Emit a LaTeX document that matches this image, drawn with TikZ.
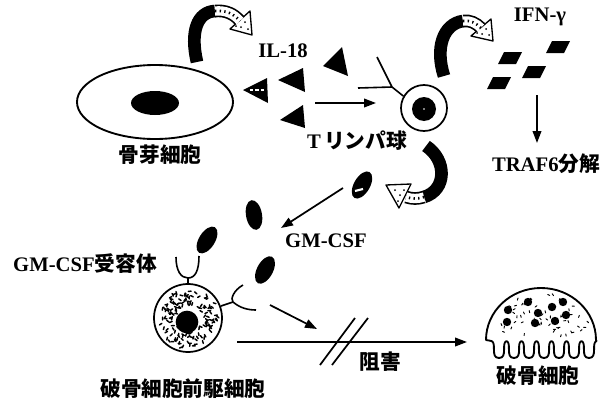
\documentclass[tikz,border=0pt]{standalone}
\usepackage{fontspec}
\setmainfont{Liberation Serif}
\newfontfamily\jp{Noto Sans CJK JP}
\usetikzlibrary{arrows.meta,shapes.geometric}

\tikzset{
  lbl/.style={inner sep=0.75pt, font=\fontsize{15.5}{18}\selectfont\bfseries},
  conn/.style={line width=1.3pt, -{Triangle[length=9pt,width=6.5pt]}},
  bandk/.style={line width=9.5pt},
  bandw/.style={line width=7pt, white},
  bandd/.style={line width=2pt, dash pattern=on 1pt off 2.5pt},
  bandhead/.style={fill=white, draw=black, line width=1pt, line join=round},
  speck/.style={line width=1.1pt, line cap=round},
  recep/.style={line width=1.2pt},
}
% outlined, speckled part of a swirl arrow
\newcommand{\swirlpart}[1]{\draw[bandk] #1;}
\newcommand{\swirlfill}[1]{\draw[bandw] #1; \draw[bandd] #1;}

\begin{document}
\begin{tikzpicture}[x=0.75pt,y=0.75pt,yscale=-1,xscale=1]
\useasboundingbox (0,0) rectangle (601,400);
\pgfmathsetseed{11}

%Shape: Ellipse (osteoblast)
\node[draw, ellipse, line width=1.4pt, minimum width=117pt, minimum height=55.5pt, inner sep=0] (obcell) at (155,102) {};
\node[fill, ellipse, minimum width=36pt, minimum height=18pt, inner sep=0] (obnuc) at (155,103) {};

%Shape: Circle (T cell)
\node[draw, circle, line width=1.3pt, minimum size=34.5pt, inner sep=0] (tcell) at (424,108) {};
\node[fill, circle, minimum size=18pt, inner sep=0] (tnuc) at (424,109) {};
\fill[white] (tnuc) circle (0.8);

%Shape: Circle (precursor)
\node[draw, circle, line width=1.3pt, minimum size=51pt, inner sep=0] (precell) at (188,318) {};
\node[fill, circle, minimum size=17pt, inner sep=0] (prenuc) at (187,322) {};
\foreach \i in {1,...,150}{
  \pgfmathsetmacro{\spa}{rnd*360}
  \pgfmathsetmacro{\spr}{14+rnd*16}
  \pgfmathsetmacro{\spd}{rnd*180}
  \draw[speck, shift={(188,318)}] (\spa:\spr) -- ++(\spd:2.8);
}

%Shape: Osteoclast
\draw[line width=1.4pt, line join=round] (486,340) arc[start angle=180, end angle=360, x radius=55, y radius=52]
  \foreach \c in {589,574,...,499} { -- (\c+7.5,341) .. controls (\c+2,343) and (\c+9,358) .. (\c,358) .. controls (\c-9,358) and (\c-2,343) .. (\c-7.5,341) } -- cycle;
\foreach \dx/\dy in {528/302, 563/302, 508/310, 538/313, 552/307, 566/315, 507/322, 535/323, 555/321}
  \fill (\dx,\dy) circle (4.2);
\foreach \i in {1,...,60}{
  \pgfmathsetmacro{\spa}{12+rnd*156}
  \pgfmathsetmacro{\spr}{0.3+rnd*0.62}
  \pgfmathsetmacro{\spd}{rnd*180}
  \draw[speck, line width=0.7pt] ({541+55*\spr*cos(\spa)},{340-52*\spr*sin(\spa)}) -- ++(\spd:2.2);
}

%Shape: IL-18 triangles
\fill (323,66) -- (342,47) -- (348,76) -- cycle;
\fill (278,80) -- (303,68) -- (305,92) -- cycle;
\fill (243,90) -- (267,78) -- (268,103) -- cycle;
\draw[white, line width=1.3pt, dash pattern=on 2.5pt off 1.5pt] (250,90) -- (266,90);
\fill (280,120) -- (303,105) -- (305,128) -- cycle;

%Shape: IFN-gamma bars
\foreach \bx/\by in {558/47, 510/58, 534/72, 499/83}
  \fill (\bx-6,\by-6) -- (\bx+12,\by-6) -- (\bx+6,\by+6) -- (\bx-12,\by+6) -- cycle;

%Shape: GM-CSF molecules
\fill[rotate around={-60:(362,185)}] (362,185) ellipse [x radius=15, y radius=8];
\draw[white, line width=1.6pt] (355,191) -- (363,189);
\fill[rotate around={-100:(254,215)}] (254,215) ellipse [x radius=15, y radius=8];
\fill[rotate around={-58:(207,240)}] (207,240) ellipse [x radius=15, y radius=8];
\fill[rotate around={-62:(265,270)}] (265,270) ellipse [x radius=15, y radius=8];

%Straight Lines (T cell receptor)
\coordinate (tcrfork) at (392,87);
\draw[recep] (377,57) -- (tcrfork);
\draw[recep] (358,88) -- (tcrfork);
\draw[recep] (tcrfork) -- (tcell.150);

%Curve Lines (GM-CSF receptors)
\coordinate (gmrtop) at (188,278);
\draw[recep] (precell.north) -- (gmrtop);
\draw[recep] (176,257) .. controls (176,271) and (181,278) .. (gmrtop) .. controls (195,278) and (199,271) .. (199,256);
\coordinate (gmrside) at (233,302);
\draw[recep] (precell.20) -- (gmrside);
\draw[recep] (243,285) .. controls (234,290) and (230,299) .. (gmrside) .. controls (240,308) and (248,310) .. (256,310);

%Straight Lines (arrows)
\coordinate (ilarr1) at (315,103);
\coordinate (ilarr2) at (376,103);
\draw[conn] (ilarr1) -- (ilarr2);
\coordinate (ifnarr1) at (537,95);
\coordinate (ifnarr2) at (537,143);
\draw[conn] (ifnarr1) -- (ifnarr2);
\coordinate (gmarr1) at (343,188);
\coordinate (gmarr2) at (281,228);
\draw[conn] (gmarr1) -- (gmarr2);
\coordinate (prearr1) at (270,305);
\coordinate (prearr2) at (317,329);
\draw[conn] (prearr1) -- (prearr2);
\coordinate (inh1) at (237,342);
\coordinate (inh2) at (467,342);
\draw[conn] (inh1) -- (inh2);
\draw[line width=1.3pt] (320,365) -- (355,318);
\draw[line width=1.3pt] (332,365) -- (368,318);

%Curve Lines (swirl over osteoblast)
\coordinate (oba1) at (197,62);
\coordinate (oba2) at (215,11);
\coordinate (oba3) at (240,21);
\draw[bandk] (oba1) .. controls (190,32) and (197,12) .. (oba2);
\swirlpart{(oba2) .. controls (226,10) and (234,14) .. (oba3)}
\filldraw[bandhead] (250,11) -- (252,35) -- (230,29) -- cycle;
\swirlfill{(oba2) .. controls (226,10) and (234,14) .. (oba3)}
\foreach \hx/\hy in {245/22, 241/27, 248/29, 236/26} \fill (\hx,\hy) circle (1);

%Curve Lines (swirl over T cell)
\coordinate (tca1) at (444,76);
\coordinate (tca2) at (463,21);
\coordinate (tca3) at (481,28);
\draw[bandk] (tca1) .. controls (435,48) and (443,24) .. (tca2);
\swirlpart{(tca2) .. controls (470,20) and (476,23) .. (tca3)}
\filldraw[bandhead] (491,19) -- (493,41) -- (471,36) -- cycle;
\swirlfill{(tca2) .. controls (470,20) and (476,23) .. (tca3)}
\foreach \hx/\hy in {486/29, 482/34, 489/35, 477/33} \fill (\hx,\hy) circle (1);

%Curve Lines (swirl under T cell)
\coordinate (tcb1) at (426,146);
\coordinate (tcb2) at (424,197);
\coordinate (tcb3) at (406,197);
\draw[bandk] (tcb1) .. controls (447,160) and (447,190) .. (tcb2);
\swirlpart{(tcb2) .. controls (418,199) and (412,199) .. (tcb3)}
\filldraw[bandhead] (411,184) -- (386,185) -- (399,208) -- cycle;
\swirlfill{(tcb2) .. controls (418,199) and (412,199) .. (tcb3)}
\foreach \hx/\hy in {395/190, 400/195, 398/201, 404/190} \fill (\hx,\hy) circle (1);

% Text Node
\node[lbl] (oblabel) at (160,155) {\jp 骨芽細胞};
% Text Node
\node[lbl] (il18) at (283,51) {IL-18};
% Text Node
\node[lbl] (tlabel) at (357,141) {T\,{\jp リンパ球}};
% Text Node
\node[lbl] (ifn) at (540,17) {IFN-γ};
% Text Node
\node[lbl] (traf) at (546,164) {TRAF6{\jp 分解}};
% Text Node
\node[lbl] (gmcsf) at (326,241) {GM-CSF};
% Text Node
\node[lbl] (gmrlabel) at (85,264) {GM-CSF{\jp 受容体}};
% Text Node
\node[lbl] (prelabel) at (183,389) {\jp 破骨細胞前駆細胞};
% Text Node
\node[lbl] (inhlabel) at (380,362) {\jp 阻害};
% Text Node
\node[lbl] (oclabel) at (538,376) {\jp 破骨細胞};

\end{tikzpicture}
\end{document}
